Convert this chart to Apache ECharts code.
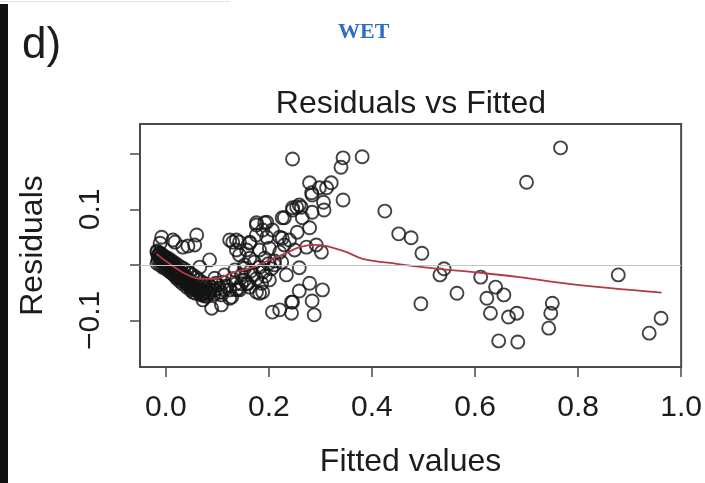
<!DOCTYPE html>
<html><head><meta charset="utf-8">
<script src="https://cdn.jsdelivr.net/npm/echarts@6/dist/echarts.min.js"></script>
<style>html,body{margin:0;padding:0;background:#fff}#c{width:705px;height:483px}</style>
</head><body><div id="c"></div>
<script>
// ---- data ----
const xTicks = [0, 0.2, 0.4, 0.6, 0.8, 1.0];
const yTicks = [-0.1, 0, 0.1, 0.2];
const yLabelValues = [-0.1, 0.1];

// dense descending/rising band of small fitted values
const bandMain = [
[-0.017,0.023],[-0.015,0.016],[-0.015,0.009],[-0.011,0.020],[-0.010,0.012],[-0.008,0.005],
[-0.006,0.016],[-0.004,0.007],[-0.002,-0.002],[0.000,0.011],[0.002,0.002],[0.004,-0.007],
[0.006,0.005],[0.008,-0.004],[0.010,-0.013],[0.012,0.000],[0.014,-0.009],[0.016,-0.018],
[0.018,-0.006],[0.020,-0.015],[0.021,-0.024],[0.023,-0.011],[0.025,-0.020],[0.027,-0.029],
[0.029,-0.016],[0.031,-0.025],[0.033,-0.034],[0.035,-0.022],[0.037,-0.031],[0.041,-0.040],
[0.043,-0.027],[0.045,-0.036],[0.049,-0.045],[0.050,-0.033],[0.054,-0.042],[0.058,-0.051],
[0.060,-0.036],[0.064,-0.045],[0.068,-0.054],[0.072,-0.038],[0.076,-0.047],[0.079,-0.056],
[0.083,-0.036],[0.087,-0.045],[0.093,-0.052],[0.097,-0.033],[0.103,-0.042],[0.107,-0.049],
[0.112,-0.031],[0.118,-0.038],[0.124,-0.045],[0.130,-0.025],[0.136,-0.034],[0.141,-0.042],
[0.147,-0.018],[0.153,-0.027],[0.159,-0.034],[0.165,-0.011],[0.170,-0.018],[0.176,-0.025],
[0.182,-0.004],[0.188,-0.013],[0.193,-0.020],[0.199,0.002],[0.205,-0.007],[0.211,0.007]
];
const bandFill = [
[-0.013,0.021],[-0.011,0.012],[-0.008,0.018],[-0.006,0.009],[-0.002,0.014],[0.000,0.003],
[0.004,0.009],[0.006,0.000],[0.010,0.005],[0.012,-0.006],[0.016,0.000],[0.018,-0.011],
[0.021,-0.006],[0.023,-0.016],[0.027,-0.011],[0.029,-0.022],[0.033,-0.016],[0.035,-0.027],
[0.039,-0.022],[0.041,-0.033],[0.045,-0.027],[0.047,-0.040],[0.050,-0.038],[0.052,-0.049],
[0.056,-0.043],[0.062,-0.042],[0.066,-0.049],[0.070,-0.045],[0.074,-0.052],[0.078,-0.043],
[0.081,-0.051],[0.089,-0.040],[0.095,-0.045],[0.101,-0.036]
];
const bandUpperEdge = [
[-0.017,0.025],[-0.011,0.021],[-0.006,0.018],[0.000,0.014],[0.006,0.011],[0.012,0.007],
[0.018,0.003],[0.023,0.000],[0.029,-0.004],[0.035,-0.007],[0.041,-0.011],[0.047,-0.015],
[0.052,-0.018],[0.058,-0.022],[0.064,-0.027],[0.070,-0.031],[0.075,-0.034]
];
const bandLowerEdge = [
[-0.017,0.003],[-0.011,0.000],[-0.006,-0.004],[0.000,-0.007],[0.006,-0.011],[0.012,-0.015],
[0.018,-0.018],[0.023,-0.022],[0.029,-0.025],[0.035,-0.029],[0.041,-0.033],[0.047,-0.036],
[0.052,-0.042],[0.058,-0.045],[0.064,-0.049],[0.070,-0.052],[0.075,-0.056]
];
const bandRising = [
[0.095,-0.024],[0.114,-0.018],[0.134,-0.009],[0.153,-0.006],[0.108,-0.054],[0.124,-0.060],
[0.147,-0.034]
];
const aroundBandAbove = [
[-0.008,0.050],[0.018,0.041],[0.060,0.054],[0.043,0.034],[0.014,0.045],[0.033,0.032],
[0.056,0.036],[-0.011,0.039],[0.085,0.009],[0.066,-0.004],[0.130,0.041],[0.124,0.045],
[0.143,0.041],[0.163,0.041],[0.137,0.027],[0.157,0.027],[0.176,0.076],[0.192,0.076],
[0.207,0.063],[0.226,0.085],[0.246,0.103]
];
const aroundBandBelow = [
[0.072,-0.063],[0.089,-0.078],[0.108,-0.072],[0.128,-0.058],[0.143,-0.045],[0.157,-0.033],
[0.114,-0.045],[0.085,-0.051],[0.182,-0.051],[0.207,-0.085],[0.244,-0.067],[0.244,-0.087],
[0.176,-0.049],[0.188,-0.049],[0.163,-0.040],[0.137,-0.045]
];
const midCluster = [
[0.246,0.191],[0.344,0.193],[0.340,0.176],[0.381,0.195],[0.279,0.148],[0.298,0.139],
[0.321,0.148],[0.312,0.139],[0.283,0.130],[0.344,0.117],[0.306,0.113],[0.307,0.099],
[0.284,0.095],[0.263,0.104],[0.254,0.104],[0.246,0.099],[0.265,0.085],[0.279,0.067],
[0.255,0.059],[0.230,0.085],[0.196,0.077],[0.176,0.072],[0.188,0.063],[0.221,0.050],
[0.176,0.054],[0.196,0.050],[0.137,0.045],[0.163,0.039],[0.273,0.032],[0.292,0.036],
[0.302,0.023],[0.259,-0.005],[0.279,-0.033],[0.259,-0.047],[0.304,-0.045],[0.246,-0.067],
[0.284,-0.065],[0.288,-0.090],[0.226,0.048],[0.284,0.126],[0.259,0.108],[0.221,0.023],
[0.221,-0.081]
];
const midFill = [
[0.143,0.018],[0.163,0.012],[0.182,0.027],[0.201,0.030],[0.230,0.036],[0.240,0.045],
[0.250,0.027],[0.153,0.000],[0.172,0.005],[0.192,0.012],[0.211,0.000],[0.225,0.005],
[0.234,-0.018],[0.201,-0.027],[0.186,-0.033]
];
const largeFitted = [
[0.425,0.097],[0.452,0.056],[0.476,0.049],[0.497,0.021],[0.540,-0.007],[0.532,-0.018],
[0.565,-0.051],[0.495,-0.070],[0.611,-0.022],[0.640,-0.040],[0.623,-0.060],[0.656,-0.054],
[0.630,-0.087],[0.665,-0.094],[0.681,-0.087],[0.750,-0.069],[0.747,-0.087],[0.743,-0.114],
[0.646,-0.137],[0.683,-0.139],[0.700,0.149],[0.766,0.211],[0.878,-0.018],[0.961,-0.096],
[0.938,-0.123]
];
// lowess smoother (red line)
const lowessX = [-0.018,0.000,0.034,0.067,0.096,0.130,0.169,0.202,0.235,0.260,0.289,0.312,0.351,0.382,0.448,0.531,0.608,0.686,0.782,0.962];
const lowessY = [0.020,0.007,-0.014,-0.025,-0.025,-0.014,-0.004,0.009,0.022,0.032,0.036,0.034,0.023,0.011,0.002,-0.007,-0.014,-0.022,-0.034,-0.050];

// ---- chart ----
const FONT = '"Liberation Sans", Arial, Helvetica, sans-serif';
const TXT = '#1c1c1c';
const points = [].concat(bandMain, bandFill, bandUpperEdge, bandLowerEdge, bandRising,
  aroundBandAbove, aroundBandBelow, midCluster, midFill, largeFitted);
const lowess = lowessX.map((x, i) => [x, lowessY[i]]);
const fmt = v => (v < 0 ? '\u2212' : '') + Math.abs(v).toFixed(1);

const chart = echarts.init(document.getElementById('c'));
chart.setOption({
  animation: false,
  backgroundColor: '#fff',
  title: {
    text: 'Residuals vs Fitted', left: 406, top: 83, textAlign: 'center',
    textStyle: { fontFamily: FONT, fontSize: 32, fontWeight: 'normal', color: TXT }
  },
  graphic: [
    { type: 'rect', shape: { x: 0, y: 4, width: 8, height: 479 }, style: { fill: '#111' } },
    { type: 'line', shape: { x1: 0, y1: 1.5, x2: 230, y2: 1.5 }, style: { stroke: '#e2e2e2', lineWidth: 1 } },
    { type: 'text', left: 22, top: 24, style: { text: 'd)', font: '44px ' + FONT, fill: TXT } },
    { type: 'text', left: 338, top: 21, style: { text: 'WET', font: 'bold 22px "Liberation Serif", "Times New Roman", serif', fill: '#2c6cc6' } }
  ],
  grid: { left: 140, right: 22, top: 124, bottom: 116, show: true, borderColor: '#4a4a4a', borderWidth: 2 },
  xAxis: {
    type: 'value', min: -0.05, max: 1.0,
    axisLine: { show: false, onZero: false }, splitLine: { show: false },
    axisTick: { show: true, customValues: xTicks, length: 10, lineStyle: { color: '#4a4a4a', width: 1.5 } },
    axisLabel: { customValues: xTicks, formatter: fmt, margin: 26, fontFamily: FONT, fontSize: 30, color: TXT },
    name: 'Fitted values', nameLocation: 'middle', nameGap: 79,
    nameTextStyle: { fontFamily: FONT, fontSize: 32, color: TXT }
  },
  yAxis: {
    type: 'value', min: -0.184, max: 0.254,
    axisLine: { show: false, onZero: false }, splitLine: { show: false },
    axisTick: { show: true, customValues: yTicks, length: 10, lineStyle: { color: '#4a4a4a', width: 1.5 } },
    axisLabel: { customValues: yLabelValues, formatter: fmt, rotate: 90, margin: 34, fontFamily: FONT, fontSize: 30, color: TXT },
    name: 'Residuals', nameLocation: 'middle', nameGap: 91, nameRotate: 90,
    nameTextStyle: { fontFamily: FONT, fontSize: 32, color: TXT }
  },
  series: [
    {
      type: 'scatter', data: points, symbol: 'circle', symbolSize: 13, silent: true,
      itemStyle: { color: 'rgba(0,0,0,0)', borderColor: '#141414', borderWidth: 1.9 },
      markLine: {
        silent: true, symbol: ['none', 'none'], label: { show: false },
        lineStyle: { color: '#c4c4c4', type: 'solid', width: 1 },
        data: [{ yAxis: 0 }]
      },
      z: 3
    },
    {
      type: 'line', data: lowess, smooth: 0.35, showSymbol: false, silent: true,
      lineStyle: { color: '#b23a48', width: 1.8 }, z: 4
    }
  ]
});
</script>
</body></html>
